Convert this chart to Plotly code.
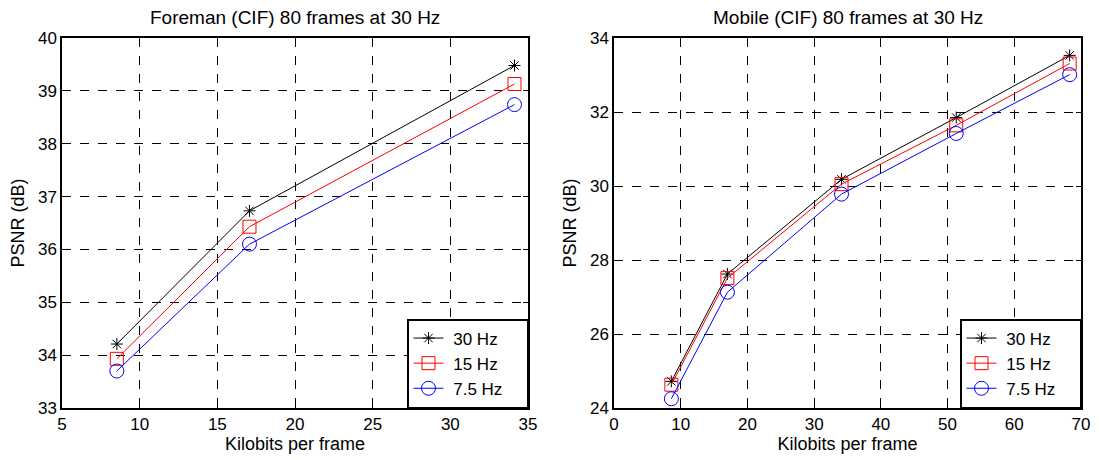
import plotly.graph_objects as go

# Foreman (CIF)
fore_x = [8.53, 17.07, 34.13]
fore_30 = [34.21, 36.73, 39.48]
fore_15 = [33.93, 36.43, 39.13]
fore_75 = [33.70, 36.10, 38.74]

# Mobile (CIF)
mob_x = [8.6, 17.0, 34.1, 51.3, 68.3]
mob_30 = [24.72, 27.62, 30.18, 31.85, 33.53]
mob_15 = [24.63, 27.51, 30.05, 31.64, 33.31]
mob_75 = [24.25, 27.13, 29.78, 31.42, 33.01]

series_names = ["30 Hz", "15 Hz", "7.5 Hz"]
colors = ["black", "red", "blue"]
symbols = ["asterisk-open", "square-open", "circle-open"]
msizes = [10, 13, 14]

FONT = "Liberation Sans, Arial, sans-serif"
PAD = "\u00a0" * 4

fig = go.Figure()

for i, ys in enumerate([fore_30, fore_15, fore_75]):
    fig.add_trace(go.Scatter(
        x=fore_x, y=ys, mode="lines+markers", name=" " + series_names[i] + PAD,
        line=dict(color=colors[i], width=1),
        marker=dict(symbol=symbols[i], size=msizes[i], color=colors[i],
                    line=dict(color=colors[i], width=1)),
        xaxis="x", yaxis="y", legend="legend"))

for i, ys in enumerate([mob_30, mob_15, mob_75]):
    fig.add_trace(go.Scatter(
        x=mob_x, y=ys, mode="lines+markers", name=" " + series_names[i] + PAD,
        line=dict(color=colors[i], width=1),
        marker=dict(symbol=symbols[i], size=msizes[i], color=colors[i],
                    line=dict(color=colors[i], width=1)),
        xaxis="x2", yaxis="y2", legend="legend2"))

axis_common = dict(
    showline=True, linecolor="black", linewidth=1.5, mirror="ticks",
    ticks="inside", ticklen=5, tickcolor="black", automargin=False,
    showgrid=True, gridcolor="black", griddash="dash", gridwidth=1,
    zeroline=False, tickfont=dict(family=FONT, size=17, color="black"),
    title_font=dict(family=FONT, size=18, color="black"),
)

ydom = [1 - 408 / 460, 1 - 38 / 460]

legend_common = dict(
    y=1 - 408 / 460, xanchor="right", yanchor="bottom",
    bordercolor="black", borderwidth=1.5, bgcolor="white",
    font=dict(family=FONT, size=17, color="black"), tracegroupgap=0,
    itemwidth=30,
)

fig.update_layout(
    width=1100, height=460,
    margin=dict(l=0, r=0, t=0, b=0),
    paper_bgcolor="white", plot_bgcolor="white",
    font=dict(family=FONT, color="black"),
    xaxis=dict(domain=[62 / 1100, 528 / 1100], range=[5, 35], dtick=5,
               title=dict(text="Kilobits per frame", standoff=4), anchor="y", **axis_common),
    yaxis=dict(domain=ydom, range=[33, 40], dtick=1,
               title=dict(text="PSNR (dB)", standoff=9), anchor="x", **axis_common),
    xaxis2=dict(domain=[614 / 1100, 1081 / 1100], range=[0, 70], dtick=10,
                title=dict(text="Kilobits per frame", standoff=4), anchor="y2", **axis_common),
    yaxis2=dict(domain=ydom, range=[24, 34], dtick=2,
                title=dict(text="PSNR (dB)", standoff=9), anchor="x2", **axis_common),
    legend=dict(x=528 / 1100, **legend_common),
    legend2=dict(x=1081 / 1100, **legend_common),
    annotations=[
        dict(text="Foreman (CIF) 80 frames at 30 Hz", x=(62 + 528) / 2 / 1100, y=1 - 17 / 460,
             xref="paper", yref="paper", showarrow=False, xanchor="center", yanchor="middle",
             font=dict(family=FONT, size=19, color="black")),
        dict(text="Mobile (CIF) 80 frames at 30 Hz", x=(614 + 1081) / 2 / 1100, y=1 - 17 / 460,
             xref="paper", yref="paper", showarrow=False, xanchor="center", yanchor="middle",
             font=dict(family=FONT, size=19, color="black")),
    ],
)

fig.write_html("out.html")
